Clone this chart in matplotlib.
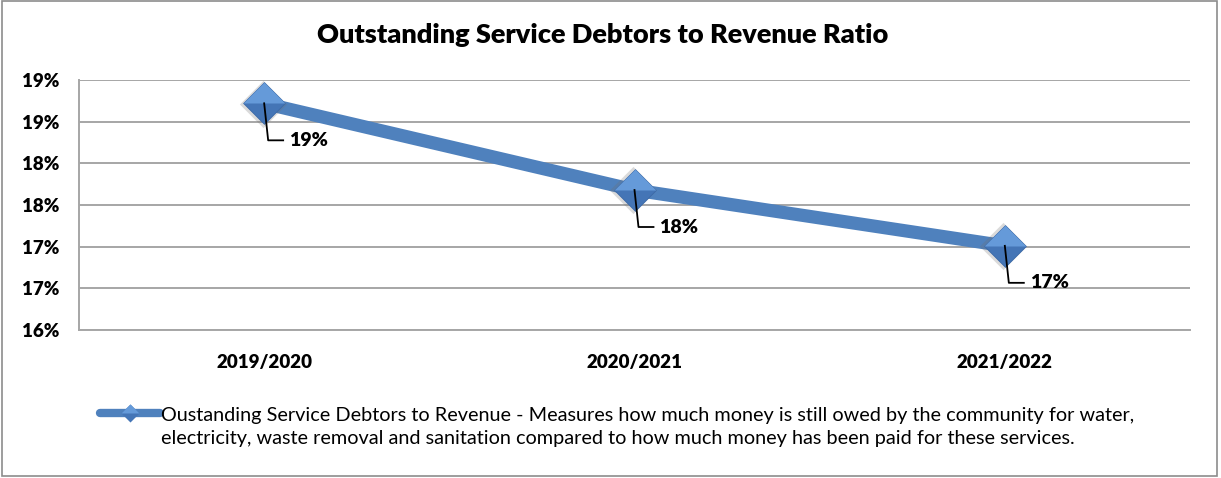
import math
import matplotlib
matplotlib.use("Agg")
import matplotlib.pyplot as plt
from matplotlib.path import Path
from matplotlib.lines import Line2D
from matplotlib.patches import Rectangle
from matplotlib.transforms import IdentityTransform
from matplotlib.ticker import FuncFormatter

plt.rcParams["font.family"] = ["Lato", "DejaVu Sans"]

# Data
periods = ["2019/2020", "2020/2021", "2021/2022"]
ratio = [0.1872, 0.1768, 0.1701]
title = "Outstanding Service Debtors to Revenue Ratio"
legend_text = ("Oustanding Service Debtors to Revenue - Measures how much money is still owed by the community for water,\n"
               "electricity, waste removal and sanitation compared to how much money has been paid for these services.")
y_ticks = [0.16, 0.165, 0.17, 0.175, 0.18, 0.185, 0.19]

LINE_BLUE = "#4F81BD"
LIGHT_BLUE = "#659AD9"
DARK_BLUE = "#4475B6"
GRID = "#A6A6A6"
W, H = 1221, 478


def pct(v, pos=None):
    # round half up, like a spreadsheet would
    return "{}%".format(int(math.floor(v * 100 + 0.5 + 1e-9)))


fig = plt.figure(figsize=(W / 100, H / 100), dpi=100)
ax = fig.add_axes([79 / W, 1 - 330 / H, (1190 - 79) / W, (330 - 80) / H])

x = list(range(len(periods)))
ax.set_xlim(-0.5, len(periods) - 0.5)
ax.set_ylim(y_ticks[0], y_ticks[-1])
ax.set_yticks(y_ticks)
ax.yaxis.set_major_formatter(FuncFormatter(pct))
ax.set_xticks(x)
ax.set_xticklabels(periods)

ax.grid(axis="y", color=GRID, linewidth=1.4)
ax.set_axisbelow(True)
for side in ("top", "right"):
    ax.spines[side].set_visible(False)
for side in ("left", "bottom"):
    ax.spines[side].set_color(GRID)
    ax.spines[side].set_linewidth(1.4)
ax.tick_params(axis="both", length=0, labelsize=13.5, pad=14)
ax.tick_params(axis="x", pad=17)
for lab in ax.get_xticklabels() + ax.get_yticklabels():
    lab.set_fontweight("heavy")

# diamond marker shapes: full and top half (bevel highlight)
diamond = Path([(-1, 0), (0, 1), (1, 0), (0, -1), (-1, 0)],
               [Path.MOVETO, Path.LINETO, Path.LINETO, Path.LINETO, Path.CLOSEPOLY])
top_tri = Path([(-1, 0), (0, 1), (1, 0), (-1, 0), (0, -1)],
               [Path.MOVETO, Path.LINETO, Path.LINETO, Path.CLOSEPOLY, Path.MOVETO])

ax.plot(x, ratio, color=LINE_BLUE, linewidth=9.5, solid_capstyle="butt", zorder=3)
MS = 30
# soft shadow behind the markers
ax.plot([xi - 0.004 for xi in x], [yi - 0.00005 for yi in ratio], linestyle="none",
        marker=diamond, markersize=MS + 4, color="#6F6F6F", alpha=0.25,
        markeredgewidth=0, zorder=4)
ax.plot(x, ratio, linestyle="none", marker=diamond, markersize=MS,
        markerfacecolor=DARK_BLUE, markeredgecolor="#3C6AA8", markeredgewidth=0.6, zorder=5)
ax.plot(x, ratio, linestyle="none", marker=top_tri, markersize=MS,
        markerfacecolor=LIGHT_BLUE, markeredgewidth=0, zorder=6)

fig.text(603 / W, 1 - 35 / H, title, fontsize=19.5, fontweight="heavy",
         ha="center", va="center")

# data labels with leader lines (pixel offsets from the marker)
for xi, yi in zip(x, ratio):
    px, py = ax.transData.transform((xi, yi))
    pts = [(px, py), (px + 4, py - 37), (px + 19, py - 37)]
    fig.add_artist(Line2D([p[0] for p in pts], [p[1] for p in pts], color="black",
                          linewidth=1.3, transform=IdentityTransform(), zorder=7))
    fig.text((px + 25) / W, (py - 37) / H, pct(yi), fontsize=14, fontweight="heavy",
             ha="left", va="center", zorder=8)

# legend
ly = 1 - 413 / H
fig.add_artist(Line2D([100 / W, 160 / W], [ly, ly], color=LINE_BLUE, linewidth=6,
                      solid_capstyle="round", transform=fig.transFigure))
fig.add_artist(Line2D([130 / W], [ly], linestyle="none", marker=diamond, markersize=13,
                      markerfacecolor=DARK_BLUE, markeredgewidth=0, transform=fig.transFigure))
fig.add_artist(Line2D([130 / W], [ly], linestyle="none", marker=top_tri, markersize=13,
                      markerfacecolor=LIGHT_BLUE, markeredgewidth=0, transform=fig.transFigure))
fig.text(161 / W, 1 - 427 / H, legend_text, fontsize=14.3, ha="left", va="center",
         linespacing=1.42)

# chart area border
fig.add_artist(Rectangle((2 / W, 2 / H), 1215 / W, 475 / H, fill=False,
                         edgecolor="#8C8C8C", linewidth=1.2, transform=fig.transFigure))

fig.savefig("out.png", dpi=100)
